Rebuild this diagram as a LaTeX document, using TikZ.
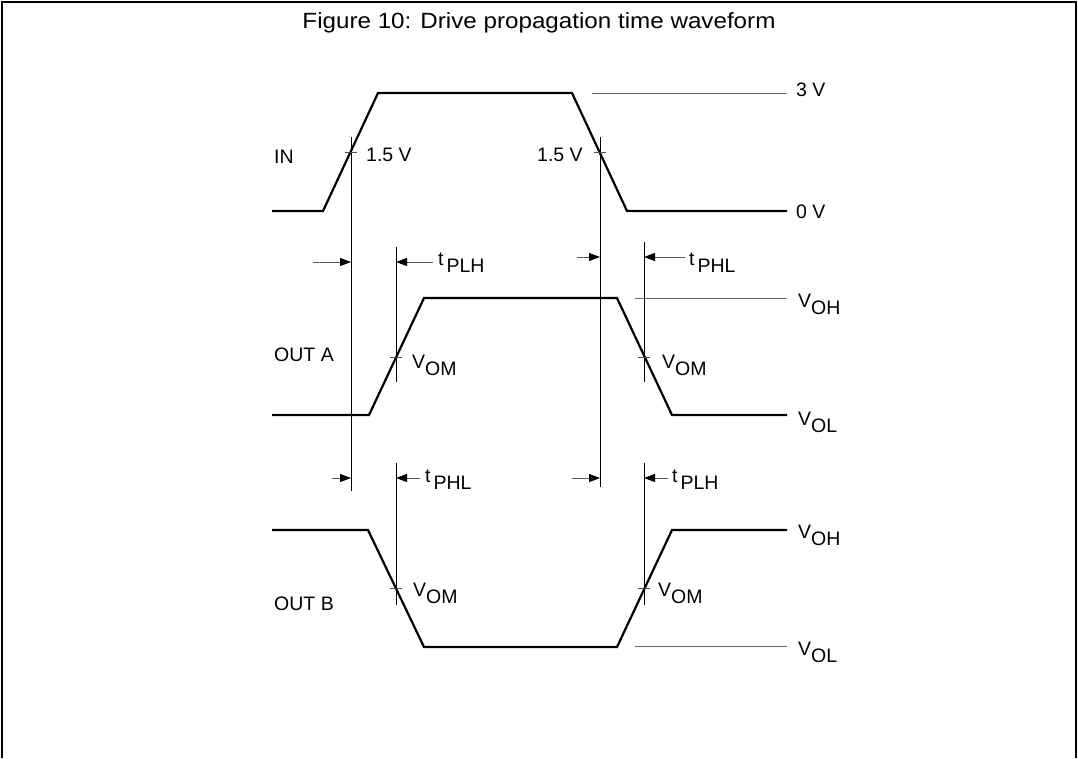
\documentclass[tikz,border=0pt]{standalone}
\usepackage{fontspec}
\setmainfont{Liberation Sans}
\usetikzlibrary{arrows.meta}
\newcommand{\labfont}{\fontsize{19.5}{22}\selectfont}
\newcommand{\subl}[2]{\raisebox{7pt}{#1}#2}
\newcommand{\tsub}[2]{\raisebox{7pt}{#1}\kern3pt #2}
\begin{document}
\begin{tikzpicture}[x=1pt,y=-1pt,
  wave/.style={line width=2.2pt,line join=miter},
  refline/.style={line width=1pt,draw=black!60},
  vline/.style={line width=1pt},
  tick/.style={line width=1pt,draw=black!70},
  dimline/.style={line width=1pt,draw=black!65,-{Triangle[length=11pt,width=8pt,fill=black,color=black]}},
  lbl/.style={anchor=base west,inner sep=0pt,font=\labfont},
  frame/.style={line width=2.5pt}]
\useasboundingbox (0,0) rectangle (1078,758);
% frame
\draw[frame] (2,758) -- (2,2) -- (1076,2) -- (1076,758);
\node[anchor=base,inner sep=0pt] (title) at (539,28) {\scalebox{1.1}[1]{\fontsize{22}{26}\selectfont Figure 10: Drive propagation time waveform}};
% signal labels
\node[lbl] (lin) at (274,163) {IN};
\node[lbl] (louta) at (274,361) {OUT A};
\node[lbl] (loutb) at (274,610) {OUT B};
% IN waveform
\draw[wave] (272,211) -- (323,211) -- (378,93) -- (572,93) -- (627,211) -- (787,211);
\draw[refline] (592,93) -- (787,93);
\node[lbl] (l3v) at (796,96) {3 V};
\node[lbl] (l0v) at (796,218) {0 V};
% OUT A waveform
\draw[wave] (272,415) -- (369,415) -- (424,298) -- (617,298) -- (672,415) -- (787,415);
\draw[refline] (635,298) -- (787,298);
\node[lbl] (lvoha) at (798,314) {\subl{V}{OH}};
\node[lbl] (lvola) at (798,432) {\subl{V}{OL}};
% OUT B waveform
\draw[wave] (272,530) -- (368,530) -- (424,647) -- (617,647) -- (672,530) -- (787,530);
\draw[refline] (635,646) -- (787,646);
\node[lbl] (lvohb) at (798,545) {\subl{V}{OH}};
\node[lbl] (lvolb) at (798,662) {\subl{V}{OL}};
% main vertical lines
\coordinate (c1t) at (351,137); \coordinate (c1b) at (351,491);
\coordinate (c2t) at (600,137); \coordinate (c2b) at (600,487);
\draw[vline] (c1t) -- (c1b);
\draw[vline] (c2t) -- (c2b);
\draw[tick] (345,152) -- (357,152);
\draw[tick] (594,152) -- (606,152);
\node[lbl] (l15a) at (366,161) {1.5 V};
\node[lbl] (l15b) at (537,161) {1.5 V};
% OUT A vertical lines
\coordinate (a1t) at (396,247); \coordinate (a1b) at (396,382);
\coordinate (a2t) at (644,242); \coordinate (a2b) at (644,382);
\draw[vline] (a1t) -- (a1b);
\draw[vline] (a2t) -- (a2b);
\draw[tick] (390,357) -- (402,357);
\draw[tick] (638,357) -- (650,357);
\node[lbl] (lvoma1) at (412,375) {\subl{V}{OM}};
\node[lbl] (lvoma2) at (662,375) {\subl{V}{OM}};
% OUT B vertical lines
\coordinate (b1t) at (396,463); \coordinate (b1b) at (396,605);
\coordinate (b2t) at (644,463); \coordinate (b2b) at (644,605);
\draw[vline] (b1t) -- (b1b);
\draw[vline] (b2t) -- (b2b);
\draw[tick] (390,588) -- (402,588);
\draw[tick] (638,588) -- (650,588);
\node[lbl] (lvomb1) at (413,603) {\subl{V}{OM}};
\node[lbl] (lvomb2) at (658,603) {\subl{V}{OM}};
% timing arrows
\coordinate (ta1s) at (313,262); \coordinate (ta1e) at (351,262);
\coordinate (ta2s) at (433,262); \coordinate (ta2e) at (396,262);
\draw[dimline] (ta1s) -- (ta1e);
\draw[dimline] (ta2s) -- (ta2e);
\node[lbl] (ltplha) at (438,272) {\tsub{t}{PLH}};
\coordinate (tb1s) at (577,257); \coordinate (tb1e) at (600,257);
\coordinate (tb2s) at (685,257); \coordinate (tb2e) at (644,257);
\draw[dimline] (tb1s) -- (tb1e);
\draw[dimline] (tb2s) -- (tb2e);
\node[lbl] (ltphla) at (689,272) {\tsub{t}{PHL}};
\coordinate (tc1s) at (332,478); \coordinate (tc1e) at (351,478);
\coordinate (tc2s) at (420,478); \coordinate (tc2e) at (396,478);
\draw[dimline] (tc1s) -- (tc1e);
\draw[dimline] (tc2s) -- (tc2e);
\node[lbl] (ltphlb) at (425,489) {\tsub{t}{PHL}};
\coordinate (td1s) at (572,478); \coordinate (td1e) at (600,478);
\coordinate (td2s) at (668,478); \coordinate (td2e) at (644,478);
\draw[dimline] (td1s) -- (td1e);
\draw[dimline] (td2s) -- (td2e);
\node[lbl] (ltplhb) at (672,489) {\tsub{t}{PLH}};
\end{tikzpicture}
\end{document}
